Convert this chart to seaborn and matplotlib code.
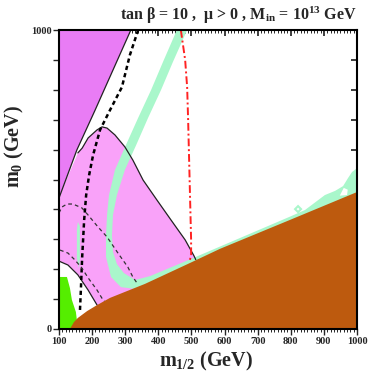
import numpy as np
import pandas as pd
import matplotlib
matplotlib.use("Agg")
import matplotlib.pyplot as plt
import seaborn as sns

# regioni (m_1/2, m_0) in GeV
stau_x = [100, 317, 209, 154, 109, 100]
stau_y = [1000, 1000, 732, 599, 465, 438]

pink_x = [100, 109, 152, 157, 170, 188, 215, 230, 245, 269, 299, 323, 354, 396, 438, 481, 508, 515, 140, 100]
pink_y = [438, 465, 575, 589, 605, 639, 666, 676, 672, 649, 609, 565, 498, 431, 365, 298, 244, 215, 0, 0]

white_x = [100, 127, 157, 188, 215, 215, 100]
white_y = [227, 214, 181, 130, 80, 0, 0]

green_x = [100, 124, 133, 139, 151, 154, 148, 133, 100]
green_y = [174, 174, 137, 97, 57, 30, 17, 0, 0]

brown_x = [133, 145, 157, 185, 215, 254, 290, 360, 496, 586, 798, 1000, 1000]
brown_y = [0, 23, 37, 60, 80, 104, 120, 151, 221, 268, 365, 458, 0]

# banda relic density (bordo esterno poi bordo interno)
band_out_x = [456, 414, 378, 339, 302, 269, 251, 245, 242, 242, 257, 287, 330, 360, 496, 798, 1000]
band_out_y = [1000, 893, 799, 706, 615, 532, 448, 381, 314, 241, 174, 140, 134, 144, 211, 358, 448]
band_in_x = [1000, 985, 973, 958, 934, 903, 879, 843, 798, 496, 375, 330, 296, 275, 263, 260, 263, 275, 299, 333, 369, 408, 444, 487]
band_in_y = [538, 525, 505, 478, 462, 448, 428, 398, 376, 233, 177, 164, 187, 217, 258, 314, 381, 448, 532, 615, 706, 799, 893, 1000]
hole_x = [948, 960, 972, 970]
hole_y = [446, 472, 466, 448]
sliver_x = [157, 163, 163, 160, 154, 154]
sliver_y = [358, 344, 231, 204, 237, 331]
diamond_x = [813, 822, 831, 822]
diamond_y = [401, 411, 401, 391]

# contorni
stau_line_x = [317, 209, 154, 109, 100]
stau_line_y = [1000, 732, 599, 465, 438]
pink_line_x = [157, 170, 188, 215, 230, 245, 269, 299, 323, 354, 396, 438, 481, 508, 513]
pink_line_y = [589, 605, 639, 666, 676, 672, 649, 609, 565, 498, 431, 365, 298, 244, 232]
white_line_x = [100, 127, 157, 188, 215]
white_line_y = [227, 214, 181, 130, 80]
chargino_x = [339, 314, 290, 254, 224, 203, 191, 182, 176, 170, 166, 163]
chargino_y = [1000, 916, 809, 732, 666, 582, 515, 448, 365, 241, 130, 54]
higgs1_x = [100, 109, 124, 142, 169, 188, 218, 245, 278, 308, 323, 338]
higgs1_y = [388, 408, 418, 418, 405, 381, 341, 308, 254, 207, 174, 150]
higgs2_x = [103, 127, 148, 169, 188, 215, 233, 238]
higgs2_y = [264, 254, 231, 204, 171, 130, 97, 92]
bsg_x = [468, 481, 487, 490, 493, 496, 499, 499, 493]
bsg_y = [1000, 900, 809, 699, 565, 431, 298, 244, 224]

sns.set_theme(style="ticks")
plt.rcParams["font.family"] = ["Liberation Serif", "DejaVu Serif"]
plt.rcParams["font.weight"] = "bold"
plt.rcParams["mathtext.fontset"] = "custom"
plt.rcParams["mathtext.rm"] = "Liberation Serif:bold"
plt.rcParams["mathtext.it"] = "Liberation Serif:bold"
plt.rcParams["mathtext.bf"] = "Liberation Serif:bold"

fig = plt.figure(figsize=(3.69, 3.82), dpi=100)
ax = fig.add_axes([59 / 369, 1 - 329 / 382, 298 / 369, 299 / 382])

ax.fill(pink_x, pink_y, color="#F9A2F9", lw=0)
ax.fill(white_x, white_y, color="white", lw=0)
ax.fill(stau_x, stau_y, color="#E97CF5", lw=0)
ax.fill(band_out_x + band_in_x, band_out_y + band_in_y, color="#A9F7CB", lw=0)
ax.fill(hole_x, hole_y, color="white", lw=0)
ax.fill(sliver_x, sliver_y, color="#A9F7CB", lw=0)
ax.fill(diamond_x, diamond_y, facecolor="white", edgecolor="#A9F7CB", lw=1.5)
ax.fill(green_x, green_y, color="#55EE00", lw=0)

# linee nere sotto la regione marrone
for lx, ly in [(stau_line_x, stau_line_y), (pink_line_x, pink_line_y), (white_line_x, white_line_y)]:
    sns.lineplot(x=lx, y=ly, sort=False, estimator=None, color="#222222", lw=0.9, ax=ax, legend=False)
sns.lineplot(x=chargino_x, y=chargino_y, sort=False, estimator=None, color="black", lw=1.8,
             linestyle=(0, (1.7, 1.3)), ax=ax, legend=False)
for lx, ly in [(higgs1_x, higgs1_y), (higgs2_x, higgs2_y)]:
    sns.lineplot(x=lx, y=ly, sort=False, estimator=None, color="#333333", lw=0.9,
                 linestyle=(0, (3, 2.5)), ax=ax, legend=False)
sns.lineplot(x=bsg_x, y=bsg_y, sort=False, estimator=None, color="#FF2222", lw=1.4,
             linestyle=(0, (4, 1.5, 1, 1.5)), ax=ax, legend=False)

ax.fill(brown_x, brown_y, color="#BD5A0E", lw=0, zorder=3)

ax.set_xlim(100, 1000)
ax.set_ylim(0, 1000)
ax.set_xticks(np.arange(100, 1001, 100))
ax.set_xticks(np.arange(100, 1001, 10), minor=True)
ax.set_yticks(np.arange(0, 1001, 100))
ax.set_yticklabels(["0"] + [""] * 9 + ["1000"])
ax.tick_params(axis="both", direction="out", labelsize=7.5, width=1, length=4, pad=1.5)
ax.tick_params(axis="x", which="minor", direction="out", length=2, width=0.7)
for s in ax.spines.values():
    s.set_linewidth(1.5)
    s.set_color("black")
    s.set_zorder(5)

top = ax.secondary_xaxis("top")
top.set_xticks(np.arange(100, 1001, 100))
top.set_xticks(np.arange(100, 1001, 10), minor=True)
top.tick_params(direction="in", length=4, labeltop=False)
top.tick_params(which="minor", direction="in", length=2, width=0.7)
right = ax.secondary_yaxis("right")
right.set_yticks(np.arange(0, 1001, 100))
right.tick_params(direction="in", length=4, labelright=False)

ax.set_xlabel(r"m$_{\mathrm{1/2}}$ (GeV)", fontsize=14.5, fontweight="bold", va="center")
ax.xaxis.set_label_coords(0.493, -0.107)
ax.set_ylabel(r"m$_{\mathrm{0}}$ (GeV)", fontsize=14.5, fontweight="bold", va="center")
ax.yaxis.set_label_coords(-0.148, 0.612)
fig.text(357 / 369, 1 - 15 / 382, r"tan β = 10 ,  μ > 0 , M$_{\mathrm{in}}$ = 10$^{\mathrm{13}}$ GeV",
         ha="right", va="center", fontsize=11.5, fontweight="bold")

plt.savefig("out.png", dpi=100)
plt.close()
